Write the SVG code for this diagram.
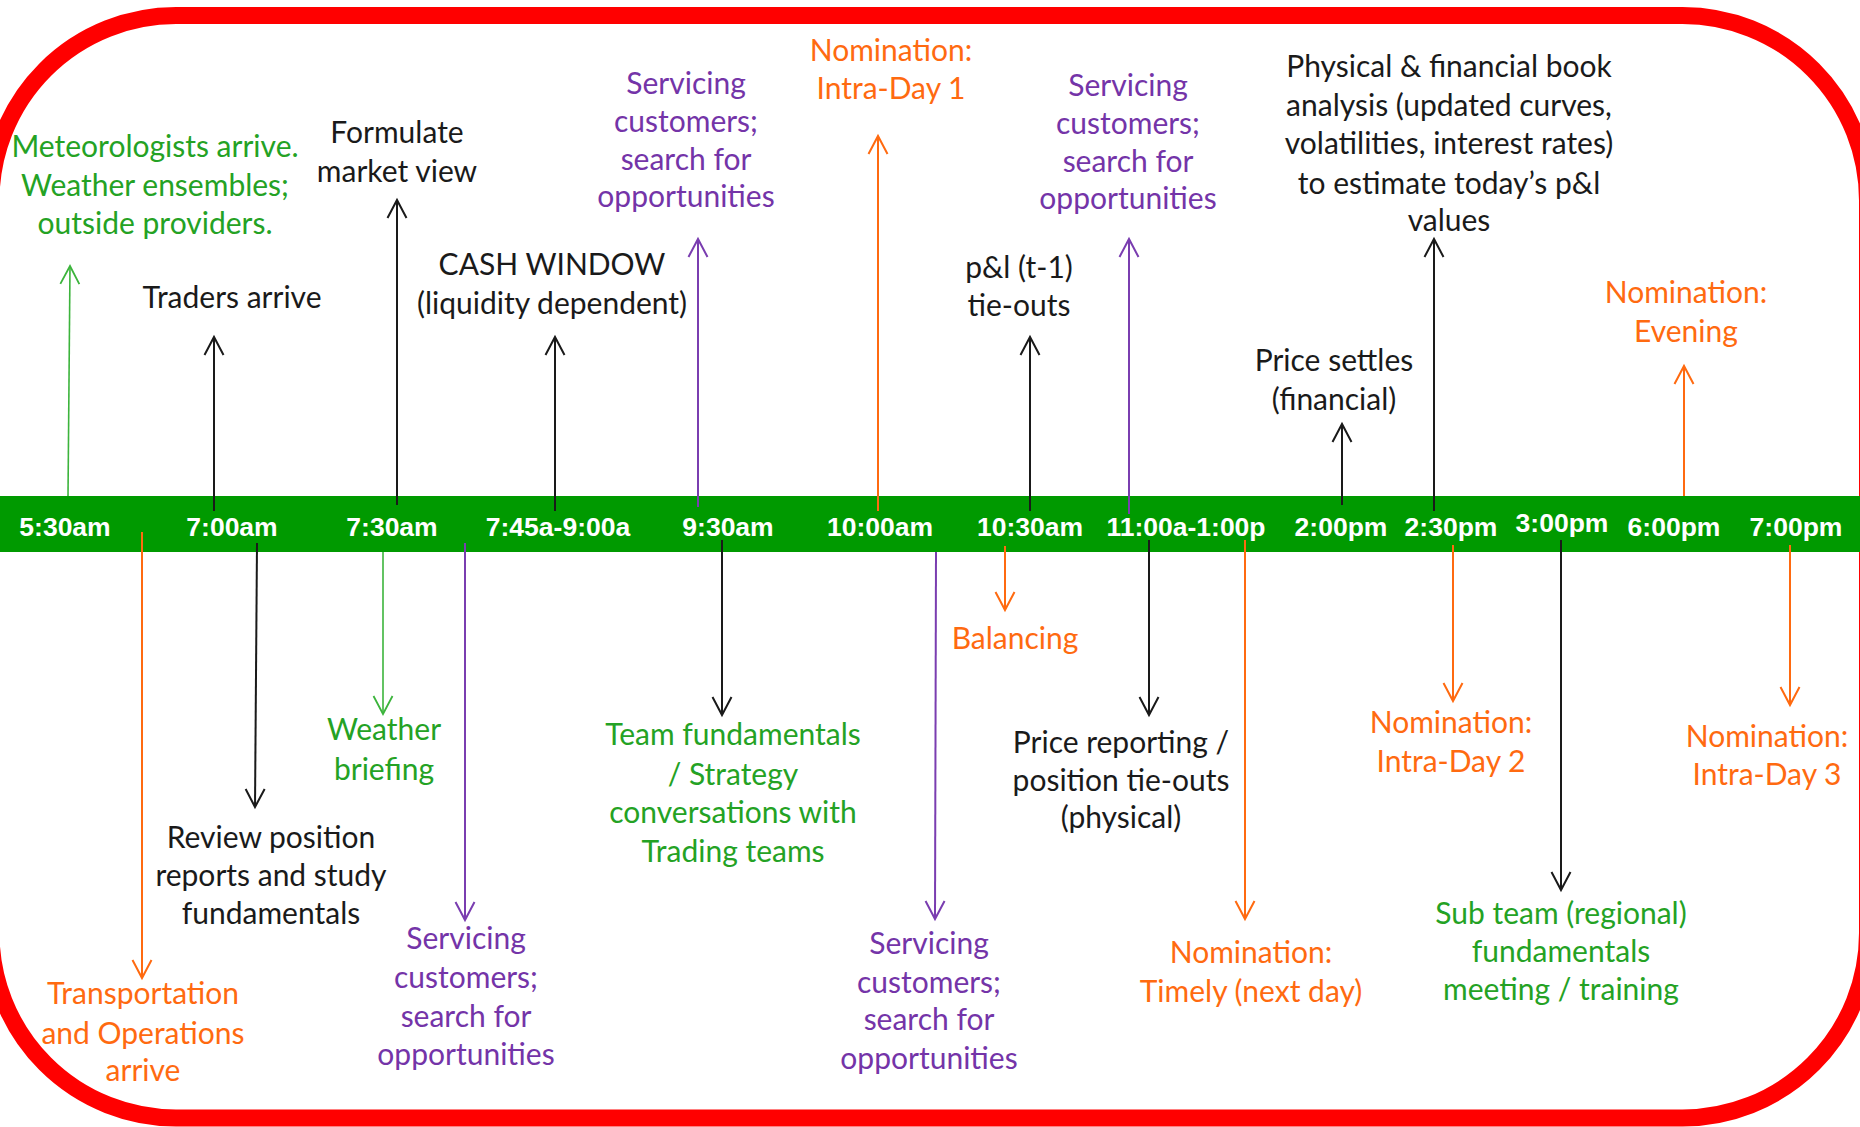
<svg xmlns="http://www.w3.org/2000/svg" width="1860" height="1127" viewBox="0 0 1860 1127">
<style>
.t{font-family:Lato,"Noto Sans","Liberation Sans",sans-serif;font-size:30px;text-anchor:middle}
.k{fill:#1a1a1a}.p{fill:#7434a8}.o{fill:#ff6a10}.g{fill:#24a224}
.tm{font-family:"Liberation Sans",Arial,sans-serif;font-weight:bold;font-size:26.5px;fill:#ffffff;text-anchor:middle}
.a{fill:none;stroke-width:2}
.ak{stroke:#1a1a1a;marker-end:url(#mk)}
.ap{stroke:#7a3db0;marker-end:url(#mp)}
.ao{stroke:#ff6a10;marker-end:url(#mo)}
.ag{stroke:#3cb43c;stroke-width:1.6;marker-end:url(#mg)}
</style>
<defs>
<marker id="mk" markerUnits="userSpaceOnUse" markerWidth="40" markerHeight="40" refX="20" refY="20" orient="auto" overflow="visible"><path d="M2,10.5 L20,20 L2,29.5" fill="none" stroke="#1a1a1a" stroke-width="2"/></marker>
<marker id="mp" markerUnits="userSpaceOnUse" markerWidth="40" markerHeight="40" refX="20" refY="20" orient="auto" overflow="visible"><path d="M2,10.5 L20,20 L2,29.5" fill="none" stroke="#7a3db0" stroke-width="2"/></marker>
<marker id="mo" markerUnits="userSpaceOnUse" markerWidth="40" markerHeight="40" refX="20" refY="20" orient="auto" overflow="visible"><path d="M2,10.5 L20,20 L2,29.5" fill="none" stroke="#ff6a10" stroke-width="2"/></marker>
<marker id="mg" markerUnits="userSpaceOnUse" markerWidth="40" markerHeight="40" refX="20" refY="20" orient="auto" overflow="visible"><path d="M2,10.5 L20,20 L2,29.5" fill="none" stroke="#3cb43c" stroke-width="1.8"/></marker>
</defs>
<rect width="1860" height="1127" fill="#ffffff"/>
<rect id="frame" x="-9" y="15.5" width="1876.5" height="1102.5" rx="185" ry="185" fill="none" stroke="#ff0000" stroke-width="17"/>
<g id="timeline">
<rect x="0" y="496" width="1860" height="56" fill="#009a00"/>
<text class="tm" x="65" y="536">5:30am</text>
<text class="tm" x="232" y="536">7:00am</text>
<text class="tm" x="392" y="536">7:30am</text>
<text class="tm" x="558" y="536">7:45a-9:00a</text>
<text class="tm" x="728" y="536">9:30am</text>
<text class="tm" x="880" y="536">10:00am</text>
<text class="tm" x="1030" y="536">10:30am</text>
<text class="tm" x="1186" y="536">11:00a-1:00p</text>
<text class="tm" x="1341" y="536">2:00pm</text>
<text class="tm" x="1451" y="536">2:30pm</text>
<text class="tm" x="1562" y="532">3:00pm</text>
<text class="tm" x="1674" y="536">6:00pm</text>
<text class="tm" x="1796" y="536">7:00pm</text>
</g>
<g id="connectors">
<path class="a ag" d="M68,496 L70,266"/>
<path class="a ak" d="M214,511 L214,337"/>
<path class="a ak" d="M397,505 L397,200"/>
<path class="a ak" d="M555,511 L555,337"/>
<path class="a ap" d="M698,507 L698,239"/>
<path class="a ao" d="M878,511 L878,136"/>
<path class="a ak" d="M1030,511 L1030,337"/>
<path class="a ap" d="M1129,514 L1129,239"/>
<path class="a ak" d="M1342,505 L1342,424"/>
<path class="a ak" d="M1434,511 L1434,239"/>
<path class="a ao" d="M1684,496 L1684,366"/>
<path class="a ao" d="M142,532 L142,978"/>
<path class="a ak" d="M257,543 L255,807"/>
<path class="a ag" d="M383,552 L383,714"/>
<path class="a ap" d="M465,543 L465,920"/>
<path class="a ak" d="M722,540 L722,715"/>
<path class="a ap" d="M936,552 L935,919"/>
<path class="a ao" d="M1005,546 L1005,610"/>
<path class="a ak" d="M1149,540 L1149,715"/>
<path class="a ao" d="M1245,540 L1245,919"/>
<path class="a ao" d="M1453,545 L1453,701"/>
<path class="a ak" d="M1561,540 L1561,890"/>
<path class="a ao" d="M1790,545 L1790,705"/>
</g>
<g id="n-meteorologists"><text class="t g" x="155" y="157">Meteorologists arrive.</text><text class="t g" x="155" y="196">Weather ensembles;</text><text class="t g" x="155" y="234">outside providers.</text></g>
<g id="n-traders"><text class="t k" x="232" y="308">Traders arrive</text></g>
<g id="n-formulate"><text class="t k" x="397" y="143">Formulate</text><text class="t k" x="397" y="182">market view</text></g>
<g id="n-cash"><text class="t k" x="552" y="275">CASH WINDOW</text><text class="t k" x="552" y="314">(liquidity dependent)</text></g>
<g id="n-servicing-1"><text class="t p" x="686" y="94">Servicing</text><text class="t p" x="686" y="132">customers;</text><text class="t p" x="686" y="170">search for</text><text class="t p" x="686" y="207">opportunities</text></g>
<g id="n-nom-intraday1"><text class="t o" x="891" y="61">Nomination:</text><text class="t o" x="891" y="99">Intra-Day 1</text></g>
<g id="n-pl-tieouts"><text class="t k" x="1019" y="278">p&amp;l (t-1)</text><text class="t k" x="1019" y="316">tie-outs</text></g>
<g id="n-servicing-2"><text class="t p" x="1128" y="96">Servicing</text><text class="t p" x="1128" y="134">customers;</text><text class="t p" x="1128" y="172">search for</text><text class="t p" x="1128" y="209">opportunities</text></g>
<g id="n-book-analysis"><text class="t k" x="1449" y="77">Physical &amp; financial book</text><text class="t k" x="1449" y="116">analysis (updated curves,</text><text class="t k" x="1449" y="154">volatilities, interest rates)</text><text class="t k" x="1449" y="194">to estimate today’s p&amp;l</text><text class="t k" x="1449" y="231">values</text></g>
<g id="n-price-settles"><text class="t k" x="1334" y="371">Price settles</text><text class="t k" x="1334" y="410">(financial)</text></g>
<g id="n-nom-evening"><text class="t o" x="1686" y="303">Nomination:</text><text class="t o" x="1686" y="342">Evening</text></g>
<g id="n-transport"><text class="t o" x="143" y="1004">Transportation</text><text class="t o" x="143" y="1044">and Operations</text><text class="t o" x="143" y="1081">arrive</text></g>
<g id="n-review"><text class="t k" x="271" y="848">Review position</text><text class="t k" x="271" y="886">reports and study</text><text class="t k" x="271" y="924">fundamentals</text></g>
<g id="n-weather-briefing"><text class="t g" x="384" y="740">Weather</text><text class="t g" x="384" y="780">briefing</text></g>
<g id="n-servicing-3"><text class="t p" x="466" y="949">Servicing</text><text class="t p" x="466" y="988">customers;</text><text class="t p" x="466" y="1027">search for</text><text class="t p" x="466" y="1065">opportunities</text></g>
<g id="n-team-fundamentals"><text class="t g" x="733" y="745">Team fundamentals</text><text class="t g" x="733" y="785">/ Strategy</text><text class="t g" x="733" y="823">conversations with</text><text class="t g" x="733" y="862">Trading teams</text></g>
<g id="n-servicing-4"><text class="t p" x="929" y="954">Servicing</text><text class="t p" x="929" y="993">customers;</text><text class="t p" x="929" y="1030">search for</text><text class="t p" x="929" y="1069">opportunities</text></g>
<g id="n-balancing"><text class="t o" x="1015" y="649">Balancing</text></g>
<g id="n-price-reporting"><text class="t k" x="1121" y="753">Price reporting /</text><text class="t k" x="1121" y="791">position tie-outs</text><text class="t k" x="1121" y="828">(physical)</text></g>
<g id="n-nom-timely"><text class="t o" x="1251" y="963">Nomination:</text><text class="t o" x="1251" y="1002">Timely (next day)</text></g>
<g id="n-nom-intraday2"><text class="t o" x="1451" y="733">Nomination:</text><text class="t o" x="1451" y="772">Intra-Day 2</text></g>
<g id="n-subteam"><text class="t g" x="1561" y="924">Sub team (regional)</text><text class="t g" x="1561" y="962">fundamentals</text><text class="t g" x="1561" y="1000">meeting / training</text></g>
<g id="n-nom-intraday3"><text class="t o" x="1767" y="747">Nomination:</text><text class="t o" x="1767" y="785">Intra-Day 3</text></g>
</svg>
